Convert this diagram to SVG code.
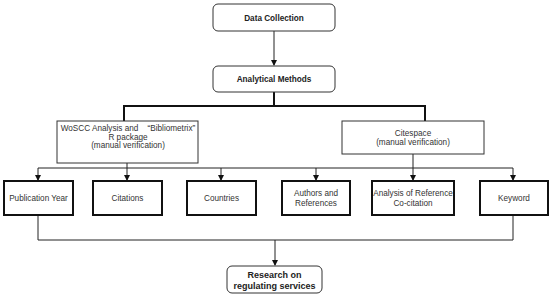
<svg xmlns="http://www.w3.org/2000/svg" width="550" height="297" viewBox="0 0 550 297">
<defs>
<marker id="arr" markerWidth="6" markerHeight="6" refX="5" refY="3" orient="auto" markerUnits="userSpaceOnUse">
<path d="M0,0 L6,3 L0,6 Z" fill="#111"/>
</marker>
<style>
.rnd{fill:#fff;stroke:#333;stroke-width:1}
.thin{fill:#fff;stroke:#333;stroke-width:1}
.thick{fill:#fff;stroke:#111;stroke-width:2}
.b{font-family:"Liberation Sans",Arial,sans-serif;font-weight:bold;font-size:8.2px;fill:#222;text-anchor:middle}
.r{font-family:"Liberation Sans",Arial,sans-serif;font-size:8.2px;fill:#333;text-anchor:middle}
.c1{fill:none;stroke:#222;stroke-width:1}
.c2{fill:none;stroke:#111;stroke-width:2}
</style>
</defs>
<rect width="550" height="297" fill="#fff"/>
<g id="connectors">
<path class="c1" d="M274,31 V65" marker-end="url(#arr)"/>
<path class="c2" d="M274,92 V106 M124,121 V106 H425 V121"/>
<path class="c1" d="M38,168 H513"/>
<path class="c1" d="M38,168 V180" marker-end="url(#arr)"/>
<path class="c1" d="M127,163 V180" marker-end="url(#arr)"/>
<path class="c1" d="M221,168 V180" marker-end="url(#arr)"/>
<path class="c1" d="M316,168 V180" marker-end="url(#arr)"/>
<path class="c1" d="M413,154 V180" marker-end="url(#arr)"/>
<path class="c1" d="M513,168 V180" marker-end="url(#arr)"/>
<path class="c1" d="M38,215 V240 H513 V215"/>
<path class="c1" d="M275,240 V265" marker-end="url(#arr)"/>
</g>
<g id="data-collection">
<rect class="rnd" x="213" y="4" width="122" height="27" rx="5"/>
<text class="b" x="274" y="21">Data Collection</text>
</g>
<g id="analytical-methods">
<rect class="rnd" x="213" y="66" width="122" height="26" rx="5"/>
<text class="b" x="274" y="82">Analytical Methods</text>
</g>
<g id="woscc">
<rect class="thin" x="57" y="121" width="141" height="42"/>
<text class="r" x="128" y="131" style="white-space:pre">WoSCC Analysis and    “Bibliometrix”</text>
<text class="r" x="128" y="139.5">R package</text>
<text class="r" x="128" y="148">(manual verification)</text>
</g>
<g id="citespace">
<rect class="thin" x="342" y="121" width="142" height="33"/>
<text class="r" x="413" y="136">Citespace</text>
<text class="r" x="413" y="144.5">(manual verification)</text>
</g>
<g id="publication-year">
<rect class="thick" x="4" y="181" width="69" height="34"/>
<text class="r" x="38.5" y="201">Publication Year</text>
</g>
<g id="citations">
<rect class="thick" x="93" y="181" width="69" height="34"/>
<text class="r" x="127.5" y="201">Citations</text>
</g>
<g id="countries">
<rect class="thick" x="187" y="181" width="69" height="34"/>
<text class="r" x="221.5" y="201">Countries</text>
</g>
<g id="authors">
<rect class="thick" x="282" y="181" width="68" height="34"/>
<text class="r" x="316" y="196">Authors and</text>
<text class="r" x="316" y="206">References</text>
</g>
<g id="cocitation">
<rect class="thick" x="372" y="181" width="82" height="34"/>
<text class="r" x="413" y="196">Analysis of Reference</text>
<text class="r" x="413" y="206">Co-citation</text>
</g>
<g id="keyword">
<rect class="thick" x="480" y="181" width="68" height="34"/>
<text class="r" x="514" y="201">Keyword</text>
</g>
<g id="research">
<rect class="rnd" x="227" y="266" width="95" height="27" rx="5"/>
<text class="b" x="274.5" y="278" style="font-size:9px">Research on</text>
<text class="b" x="274.5" y="289" style="font-size:9px">regulating services</text>
</g>
</svg>
